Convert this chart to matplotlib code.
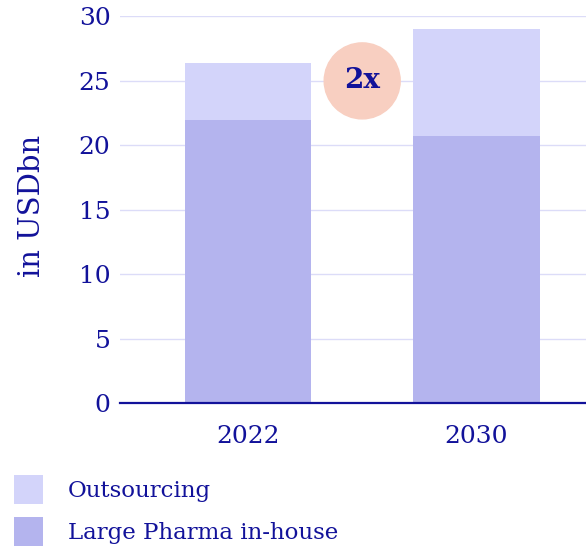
import matplotlib.pyplot as plt
from matplotlib.patches import Ellipse

years = ["2022", "2030"]
inhouse = [22.0, 20.7]
outsourcing = [4.4, 8.35]
yticks = [0, 5, 10, 15, 20, 25, 30]

navy = "#12129a"
c_in = "#b4b4ee"
c_out = "#d3d4fa"

plt.rcParams['font.family'] = ['DejaVu Serif']

fig = plt.figure(figsize=(5.86, 5.49), dpi=100)
ax = fig.add_axes([0.205, 0.266, 0.795, 0.704])

x = range(len(years))
b1 = ax.bar(x, inhouse, width=0.555, color=c_in, zorder=2, label="Large Pharma in-house")
b2 = ax.bar(x, outsourcing, bottom=inhouse, width=0.555, color=c_out, zorder=2, label="Outsourcing")

ax.set_xlim(-0.56, 1.48)
ax.set_ylim(0, 30)
ax.set_yticks(yticks)
ax.set_xticks(list(x))
ax.set_xticklabels(years)
ax.grid(axis='y', color="#dcdcf8", linewidth=1, zorder=0)
for s in ["top", "right", "left"]:
    ax.spines[s].set_visible(False)
ax.spines["bottom"].set_color(navy)
ax.spines["bottom"].set_linewidth(1.6)
ax.spines["bottom"].set_zorder(3)
ax.tick_params(axis='both', length=0, colors=navy, labelsize=18)
ax.tick_params(axis='y', pad=7)
ax.tick_params(axis='x', pad=16)
ax.set_ylabel("in USDbn", color=navy, fontsize=21)
ax.yaxis.set_label_coords(-0.16, 0.51)

# "2x" bubble
fig_w, fig_h = fig.get_size_inches() * fig.dpi
ax_w = 0.795 * fig_w
ax_h = 0.704 * fig_h
r = 38
ew = 2 * r / ax_w * (1.48 + 0.56)
eh = 2 * r / ax_h * 30
ax.add_patch(Ellipse((0.5, 25.0), ew, eh, color="#f8cfc1", zorder=4))
ax.text(0.5, 25.0, "2x", ha='center', va='center', color=navy,
        fontsize=20, fontweight='bold', zorder=5)

fig.legend(handles=[b2, b1], loc='upper left', bbox_to_anchor=(0.024, 0.135),
           frameon=False, fontsize=16.5, labelcolor=navy, borderpad=0, borderaxespad=0,
           handlelength=1.25, handleheight=1.6, handletextpad=1.1, labelspacing=0.55)

fig.savefig("out.png", dpi=100)
